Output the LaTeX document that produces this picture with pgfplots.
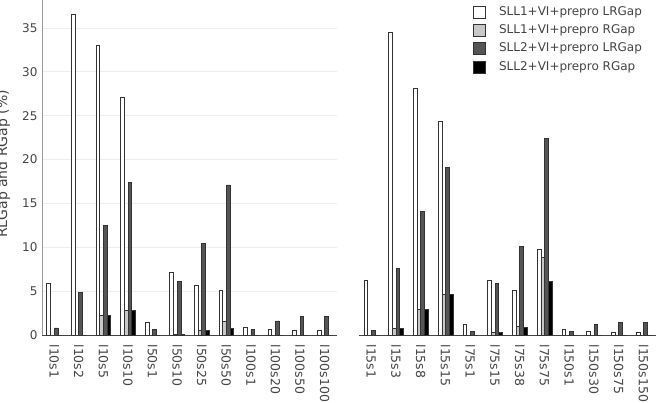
\documentclass[border=0pt]{standalone}
\usepackage{pgfplots}
\pgfplotsset{compat=1.18}
\usepackage{pgfplotstable}
\usepackage{fontspec}
\setmainfont{DejaVu Sans}
\definecolor{txt}{HTML}{444444}
\definecolor{grd}{HTML}{EDEDED}
\definecolor{axg}{HTML}{9A9A9A}
\definecolor{fB}{HTML}{C8C8C8}
\definecolor{fC}{HTML}{555555}
\definecolor{edge}{HTML}{333333}

\pgfplotstableread{
x a b c d
0 5.9 0 0.8 0
1 36.5 0 4.9 0
2 33.0 2.25 12.5 2.25
3 27.1 2.85 17.4 2.85
4 1.45 0 0.65 0
5 7.15 0.1 6.15 0.1
6 5.7 0.5 10.45 0.5
7 5.05 1.6 17.1 0.75
8 0.85 0 0.65 0
9 0.65 0 1.6 0
10 0.5 0 2.1 0
11 0.5 0 2.15 0
}\datL

\pgfplotstableread{
x a b c d
0 6.25 0 0.55 0
1 34.5 0.75 7.55 0.75
2 28.1 2.95 14.1 2.95
3 24.4 4.6 19.1 4.6
4 1.2 0 0.45 0
5 6.2 0.3 5.9 0.3
6 5.1 1.0 10.1 0.85
7 9.8 8.85 22.4 6.15
8 0.65 0 0.45 0
9 0.45 0 1.25 0
10 0.35 0 1.45 0
11 0.35 0 1.45 0
}\datR

\pgfplotsset{
  gap/.style={
    scale only axis, height=335pt, anchor=south west,
    ymin=0, ymax=38.19, xmin=-0.5, xmax=11.5,
    ybar=0pt, bar width=3.7pt,
    xtick={0,...,11}, ytick={0,5,...,35},
    ymajorgrids, grid style={grd, line width=0.8pt},
    major tick length=0pt,
    separate axis lines,
    axis x line*=bottom,
    x axis line style={-, draw=txt, line width=0.9pt},
    /pgf/number format/assume math mode=true,
    xticklabel style={rotate=-90, anchor=west, font=\fontsize{12.5}{14}\selectfont, text=txt},
    xticklabel shift=6pt,
    yticklabel style={font=\fontsize{12}{14}\selectfont, text=txt},
    yticklabel shift=1pt,
    every axis plot/.append style={draw=edge, line width=0.8pt},
  },
  sq/.style={legend image code/.code={\draw[##1, line width=0.9pt] (0pt,-6pt) rectangle (12pt,6pt);}},
}

\begin{document}
\begin{tikzpicture}
\begin{axis}[gap, at={(42pt,67pt)}, width=295pt,
  xticklabels={l10s1,l10s2,l10s5,l10s10,l50s1,l50s10,l50s25,l50s50,l100s1,l100s20,l100s50,l100s100},
  axis y line*=left, y axis line style={-, draw=axg, line width=0.8pt}]
\addplot[fill=white] table[x=x,y=a]{\datL};
\addplot[fill=fB] table[x=x,y=b]{\datL};
\addplot[fill=fC] table[x=x,y=c]{\datL};
\addplot[fill=black] table[x=x,y=d]{\datL};
\end{axis}
\begin{axis}[gap, at={(359pt,67pt)}, width=297pt,
  xticklabels={l15s1,l15s3,l15s8,l15s15,l75s1,l75s15,l75s38,l75s75,l150s1,l150s30,l150s75,l150s150},
  axis y line=none, yticklabels={},
  legend style={at={(0.34,0.997)}, anchor=north west, draw=none, fill=white,
    inner xsep=13pt, inner ysep=4pt,
    font=\fontsize{12}{14}\selectfont, text=txt,
    nodes={inner sep=1.5pt, text height=8.5pt, text depth=2.5pt},
    row sep=4.3pt, column sep=11.5pt},
  legend cell align=left]
\addplot[fill=white, sq] table[x=x,y=a]{\datR};
\addplot[fill=fB, sq] table[x=x,y=b]{\datR};
\addplot[fill=fC, sq] table[x=x,y=c]{\datR};
\addplot[fill=black, sq] table[x=x,y=d]{\datR};
\legend{SLL1+VI+prepro LRGap, SLL1+VI+prepro RGap, SLL2+VI+prepro LRGap, SLL2+VI+prepro RGap}
\end{axis}
\node[rotate=90, anchor=base, font=\fontsize{14}{16}\selectfont, text=txt] at (7pt,238pt) {RLGap and RGap (\%)};
\pgfresetboundingbox
\useasboundingbox (0,0) rectangle (656pt,402pt);
\end{tikzpicture}
\end{document}
